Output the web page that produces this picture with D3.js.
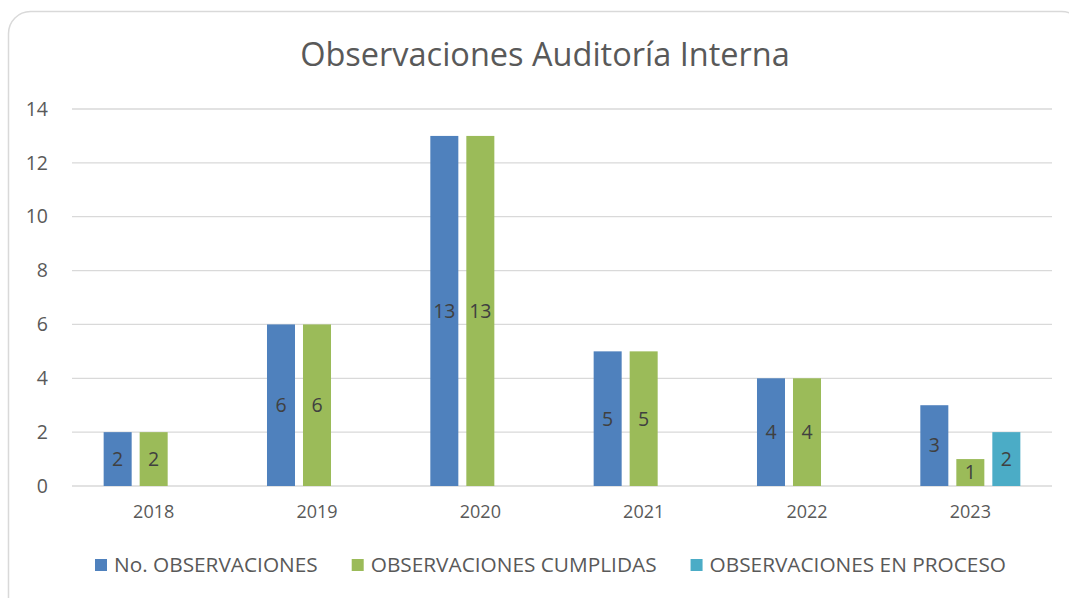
<!DOCTYPE html>
<html>
<head>
<meta charset="utf-8">
<script src="https://cdn.jsdelivr.net/npm/d3@7"></script>
<style>
  body { margin: 0; background: #fff; }
  svg { display: block; font-family: "Open Sans", sans-serif; }
</style>
</head>
<body>
<div id="chart"></div>
<script>
const years = ["2018", "2019", "2020", "2021", "2022", "2023"];
const seriesNames = ["No. OBSERVACIONES", "OBSERVACIONES CUMPLIDAS", "OBSERVACIONES EN PROCESO"];
const noObservaciones = [2, 6, 13, 5, 4, 3];
const cumplidas = [2, 6, 13, 5, 4, 1];
const enProceso = [null, null, null, null, null, 2];
const yTicks = [0, 2, 4, 6, 8, 10, 12, 14];
const colors = ["#4f81bd", "#9bbb59", "#4bacc6"];

const width = 1069, height = 598;
const plot = { left: 72, right: 1052, top: 109, bottom: 486 };

const svg = d3.select("#chart").append("svg")
  .attr("width", width)
  .attr("height", height);

// chart border
svg.append("rect")
  .attr("x", 8.5).attr("y", 11.5)
  .attr("width", 1075).attr("height", 620)
  .attr("rx", 22)
  .attr("fill", "#fff")
  .attr("stroke", "#d9d9d9")
  .attr("stroke-width", 1.5);

svg.append("text")
  .attr("x", 545).attr("y", 66)
  .attr("text-anchor", "middle")
  .attr("fill", "#595959")
  .attr("font-size", "32.5px")
  .text("Observaciones Auditoría Interna");

const x0 = d3.scaleBand().domain(years)
  .range([plot.left, plot.right])
  .paddingInner(0.3876).paddingOuter(0.1938);
const x1 = d3.scaleBand().domain(seriesNames)
  .range([0, x0.bandwidth()])
  .paddingInner(0.222);
const y = d3.scaleLinear().domain([0, 14]).range([plot.bottom, plot.top]);

// gridlines
svg.append("g")
  .selectAll("line")
  .data(yTicks)
  .join("line")
  .attr("x1", plot.left).attr("x2", plot.right)
  .attr("y1", d => y(d)).attr("y2", d => y(d))
  .attr("stroke", "#d9d9d9")
  .attr("stroke-width", 1.3);

// y axis labels
const yAxis = svg.append("g")
  .attr("transform", `translate(${plot.left},0)`)
  .call(d3.axisLeft(y).tickValues(yTicks).tickSize(0).tickPadding(24));
yAxis.select(".domain").remove();
yAxis.selectAll("text").attr("fill", "#595959").attr("font-size", "19.5px").attr("font-family", "Open Sans");

// x axis labels
const xAxis = svg.append("g")
  .attr("transform", `translate(0,${plot.bottom})`)
  .call(d3.axisBottom(x0).tickSize(0).tickPadding(19));
xAxis.select(".domain").remove();
xAxis.selectAll("text").attr("fill", "#595959").attr("font-size", "18px").attr("font-family", "Open Sans");

const allSeries = [noObservaciones, cumplidas, enProceso];
const rows = [];
years.forEach((yr, i) => {
  seriesNames.forEach((s, j) => {
    const v = allSeries[j][i];
    if (v != null) rows.push({ year: yr, series: s, value: v, color: colors[j] });
  });
});

const bars = svg.append("g").selectAll("g")
  .data(rows)
  .join("g")
  .attr("transform", d => `translate(${x0(d.year) + x1(d.series)},0)`);

bars.append("rect")
  .attr("y", d => y(d.value))
  .attr("width", x1.bandwidth())
  .attr("height", d => y(0) - y(d.value))
  .attr("fill", d => d.color);

bars.append("text")
  .attr("x", x1.bandwidth() / 2)
  .attr("y", d => (y(d.value) + y(0)) / 2)
  .attr("dy", "0.35em")
  .attr("text-anchor", "middle")
  .attr("fill", "#404040")
  .attr("font-size", "19.5px")
  .text(d => d.value);

// legend
const legend = svg.append("g").attr("transform", "translate(95,565)");
let lx = 0;
seriesNames.forEach((s, j) => {
  const item = legend.append("g").attr("transform", `translate(${lx},0)`);
  item.append("rect")
    .attr("x", 0).attr("y", -6)
    .attr("width", 12).attr("height", 12)
    .attr("fill", colors[j]);
  const t = item.append("text")
    .attr("x", 19).attr("y", 0)
    .attr("dy", "0.35em")
    .attr("fill", "#595959")
    .attr("font-size", "20.8px")
    .text(s);
  lx += 19 + t.node().getComputedTextLength() + 34;
});
</script>
</body>
</html>
